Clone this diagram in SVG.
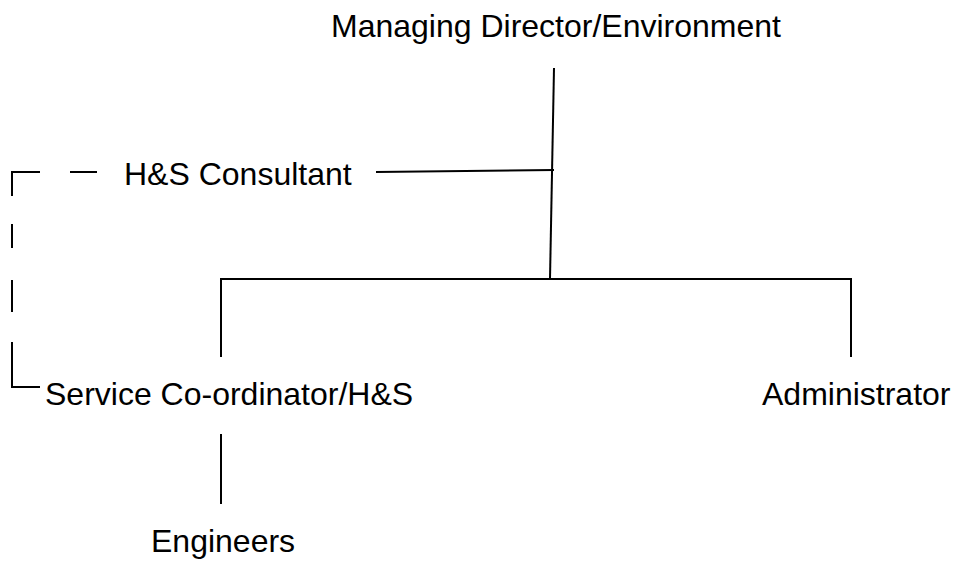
<svg xmlns="http://www.w3.org/2000/svg" width="955" height="564" viewBox="0 0 955 564">
  <style>
    .label { font-family: "Liberation Sans", Arial, sans-serif; font-size: 32px; fill: #000; }
    .link { stroke: #000; stroke-width: 2; fill: none; }
    .dotted { stroke: #000; stroke-width: 2; fill: none; }
  </style>
  <rect width="955" height="564" fill="#fff"/>

  <g id="connectors">
    <!-- Managing Director down to the staff bus -->
    <path class="link" d="M554 68 L550 279"/>
    <!-- H&S Consultant advisory tie-in -->
    <path class="link" d="M376 172 L554 170"/>
    <!-- staff bus and drops -->
    <path class="link" d="M221 357 L221 279 L851 279 L851 357"/>
    <!-- Service Co-ordinator to Engineers -->
    <path class="link" d="M221 434 L221 504"/>
    <!-- dashed liaison between H&S Consultant and Service Co-ordinator -->
    <path class="dotted" d="M97 172 L70 172"/>
    <path class="dotted" d="M40 172 L12 172 L12 196"/>
    <path class="dotted" d="M12 224 L12 248"/>
    <path class="dotted" d="M12 280 L12 312"/>
    <path class="dotted" d="M12 342 L12 387 L40 387"/>
  </g>

  <g id="managing-director">
    <text class="label" x="331" y="37">Managing Director/Environment</text>
  </g>
  <g id="hs-consultant">
    <text class="label" x="124" y="185">H&amp;S Consultant</text>
  </g>
  <g id="service-coordinator">
    <text class="label" x="45" y="405">Service Co-ordinator/H&amp;S</text>
  </g>
  <g id="administrator">
    <text class="label" x="762" y="405">Administrator</text>
  </g>
  <g id="engineers">
    <text class="label" x="151" y="552">Engineers</text>
  </g>
</svg>
